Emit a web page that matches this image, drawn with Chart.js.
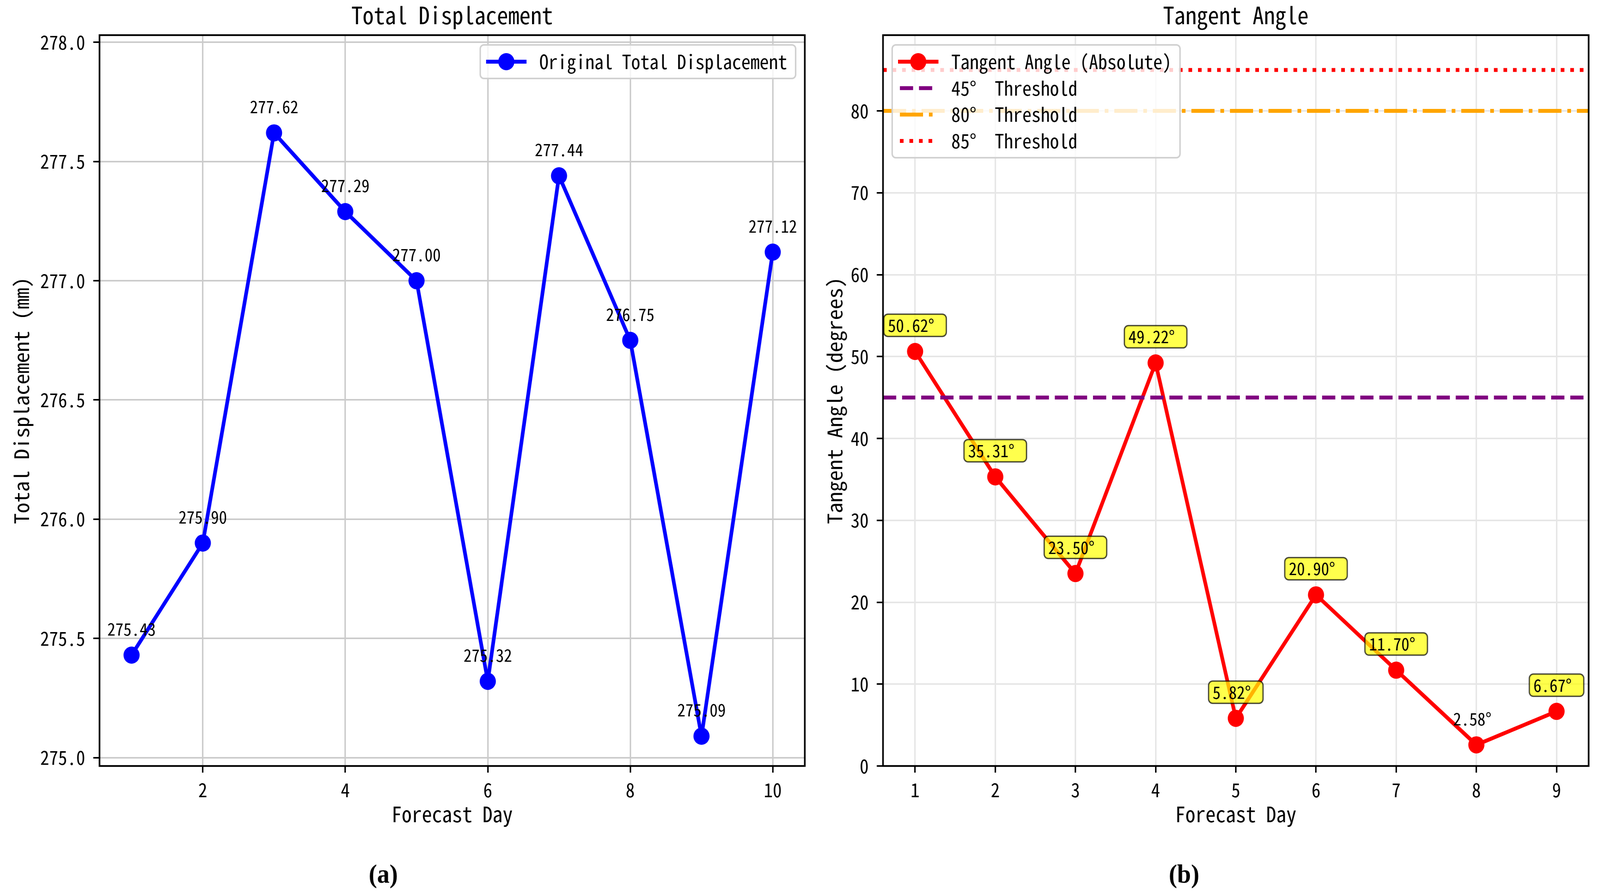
<!DOCTYPE html>
<html>
<head>
<meta charset="utf-8">
<script src="https://cdn.jsdelivr.net/npm/chart.js@4.4.1/dist/chart.umd.min.js"></script>
<style>
  html, body { margin: 0; padding: 0; background: #ffffff; overflow: hidden; }
  body { position: relative; }
  canvas { position: absolute; top: 0; }
</style>
</head>
<body>
<canvas id="dispChart" width="2230" height="2295"></canvas>
<canvas id="angleChart" width="2128" height="2295"></canvas>
<script>
// ---- data ----
var forecastDays = [1, 2, 3, 4, 5, 6, 7, 8, 9, 10];
var totalDisplacement = [275.43, 275.90, 277.62, 277.29, 277.00, 275.32, 277.44, 276.75, 275.09, 277.12];

var angleDays = [1, 2, 3, 4, 5, 6, 7, 8, 9];
var tangentAngle = [50.62, 35.31, 23.50, 49.22, 5.82, 20.90, 11.70, 2.58, 6.67];

var thresholdValues = [45, 80, 85];
var thresholdLabels = ["45° Threshold", "80° Threshold", "85° Threshold"];

var dispTicksX = [2, 4, 6, 8, 10];
var dispTicksY = [275.0, 275.5, 276.0, 276.5, 277.0, 277.5, 278.0];
var angleTicksX = [1, 2, 3, 4, 5, 6, 7, 8, 9];
var angleTicksY = [0, 10, 20, 30, 40, 50, 60, 70, 80];

// the figure is laid out in 4358 x 2295 units and stretched over the window
var PAGE_W = 4358, PAGE_H = 2295;
var KX = (window.innerWidth || PAGE_W) / PAGE_W;
var KY = (window.innerHeight || PAGE_H) / PAGE_H;
document.body.style.width = PAGE_W * KX + "px";
document.body.style.height = PAGE_H * KY + "px";

function placeCanvas(id, left) {
  var c = document.getElementById(id);
  c.style.left = left * KX + "px";
  c.style.width = c.width * KX + "px";
  c.style.height = c.height * KY + "px";
  return c;
}
var dispCanvas = placeCanvas("dispChart", 0);
var angleCanvas = placeCanvas("angleChart", 2230);

// ---- fonts (SimHei-like half width latin) ----
var FAMILY = "'Noto Sans Mono CJK SC', 'DejaVu Sans Mono', monospace";
var probe = document.createElement("canvas").getContext("2d");
probe.font = "100px " + FAMILY;
var charRatio = probe.measureText("0123456789").width / 1000;
function sizeFor(charWidth) { return Math.round(charWidth / charRatio); }

var titleSize = sizeFor(30.3);
var labelSize = sizeFor(27.6);
var tickSize = sizeFor(24.5);
var legendSize = sizeFor(25.2);
var noteSize = sizeFor(22);

// in the original font the degree sign takes a full-width cell
function wideWidth(ctx, text) {
  var cell = ctx.measureText("0").width;
  var extra = (text.split("°").length - 1) * cell;
  return ctx.measureText(text).width + extra;
}
function drawWide(ctx, text, x, y) {
  var cell = ctx.measureText("0").width;
  var parts = text.split("°");
  ctx.textAlign = "left";
  parts.forEach(function (p, i) {
    var s = i < parts.length - 1 ? p + "°" : p;
    ctx.fillText(s, x, y);
    x += ctx.measureText(s).width + (i < parts.length - 1 ? cell : 0);
  });
}

var thresholdStyles = [
  { color: "#800080", dash: [36, 16] },
  { color: "#ffa500", dash: [63, 16, 10, 16] },
  { color: "#ff0000", dash: [10, 16] }
];

function pts(xs, ys) {
  return xs.map(function (x, i) { return { x: x, y: ys[i] }; });
}

function roundRect(ctx, x, y, w, h, r) {
  ctx.beginPath();
  ctx.moveTo(x + r, y);
  ctx.lineTo(x + w - r, y);
  ctx.arcTo(x + w, y, x + w, y + r, r);
  ctx.lineTo(x + w, y + h - r);
  ctx.arcTo(x + w, y + h, x + w - r, y + h, r);
  ctx.lineTo(x + r, y + h);
  ctx.arcTo(x, y + h, x, y + h - r, r);
  ctx.lineTo(x, y + r);
  ctx.arcTo(x, y, x + r, y, r);
  ctx.closePath();
}

function drawLegend(ctx, area, entries, anchor) {
  ctx.save();
  ctx.font = legendSize + "px " + FAMILY;
  var textW = 0;
  entries.forEach(function (e) { textW = Math.max(textW, wideWidth(ctx, e.label)); });
  var w = textW + 184;
  var rowGap = 67.7;
  var h = 86 + (entries.length - 1) * rowGap;
  var x = anchor === "right" ? area.right - 25 - w : area.left + 25;
  var y = area.top + 25;
  roundRect(ctx, x, y, w, h, 10);
  ctx.fillStyle = "rgba(255,255,255,0.8)";
  ctx.fill();
  ctx.strokeStyle = "#d0d0d0";
  ctx.lineWidth = 4;
  ctx.stroke();
  entries.forEach(function (e, i) {
    var cy = y + 43 + i * rowGap;
    var hx = x + 21;
    ctx.strokeStyle = e.color;
    ctx.lineWidth = 10;
    if (e.dash) {
      ctx.setLineDash(e.dash);
      ctx.lineCap = "butt";
    } else {
      ctx.setLineDash([]);
      ctx.lineCap = "square";
    }
    ctx.beginPath();
    ctx.moveTo(hx, cy);
    ctx.lineTo(hx + 100, cy);
    ctx.stroke();
    ctx.setLineDash([]);
    if (e.marker) {
      ctx.fillStyle = e.color;
      ctx.beginPath();
      ctx.arc(hx + 50, cy, 22, 0, Math.PI * 2);
      ctx.fill();
    }
    ctx.fillStyle = "#000000";
    ctx.textBaseline = "middle";
    drawWide(ctx, e.label, hx + 140, cy);
  });
  ctx.restore();
}

// frame, titles, value notes, legend and panel captions
var decorPlugin = {
  id: "decor",
  afterDatasetsDraw: function (chart, args, opts) {
    var ctx = chart.ctx;
    var a = chart.chartArea;
    ctx.save();
    ctx.strokeStyle = "#000000";
    ctx.lineWidth = 4.5;
    ctx.strokeRect(a.left, a.top, a.right - a.left, a.bottom - a.top);

    var meta = chart.getDatasetMeta(0);
    var values = chart.data.datasets[0].data;
    ctx.font = noteSize + "px " + FAMILY;
    ctx.textBaseline = "middle";
    meta.data.forEach(function (el, i) {
      var v = values[i].y;
      var text = v.toFixed(2) + opts.suffix;
      var ty = el.y - 67;
      var tw = wideWidth(ctx, text);
      var tx = el.x - tw / 2;
      if (opts.boxed && v > 5) {
        roundRect(ctx, tx - 11, ty - 28.5, tw + 22, 57, 11);
        ctx.fillStyle = "rgba(255,255,0,0.7)";
        ctx.fill();
        ctx.strokeStyle = "rgba(0,0,0,0.7)";
        ctx.lineWidth = 3.5;
        ctx.stroke();
      }
      ctx.fillStyle = "#000000";
      drawWide(ctx, text, tx, ty);
    });
    ctx.restore();
  },
  afterDraw: function (chart, args, opts) {
    var ctx = chart.ctx;
    var a = chart.chartArea;
    drawLegend(ctx, a, opts.legend, opts.legendAnchor);
    ctx.save();
    ctx.fillStyle = "#000000";
    ctx.textAlign = "center";
    ctx.textBaseline = "middle";
    ctx.font = titleSize + "px " + FAMILY;
    ctx.fillText(opts.title, (a.left + a.right) / 2, 39);
    ctx.font = "bold 68px 'Liberation Serif', 'Times New Roman', serif";
    ctx.fillText(opts.caption, opts.captionX, 2243);
    ctx.restore();
  }
};

function axisFont(size) {
  return { family: FAMILY, size: size, lineHeight: 1 };
}

function makeScales(cfg) {
  return {
    x: {
      type: "linear",
      min: cfg.xMin,
      max: cfg.xMax,
      afterFit: function (s) { s.height = 333; },
      afterBuildTicks: function (s) { s.ticks = cfg.xTicks.map(function (v) { return { value: v }; }); },
      ticks: {
        font: axisFont(tickSize), color: "#000000", padding: 20,
        maxRotation: 0, autoSkip: false,
        callback: function (v) { return String(v); }
      },
      grid: { color: cfg.gridColor, lineWidth: 4, tickColor: "#000000", tickLength: 17, tickWidth: 4 },
      border: { display: false },
      title: {
        display: true, text: "Forecast Day", color: "#000000",
        font: axisFont(labelSize),
        padding: { top: 0, bottom: 210 - labelSize / 2 }
      }
    },
    y: {
      type: "linear",
      min: cfg.yMin,
      max: cfg.yMax,
      afterFit: function (s) { s.width = cfg.yWidth; },
      afterBuildTicks: function (s) { s.ticks = cfg.yTicks.map(function (v) { return { value: v }; }); },
      ticks: {
        font: axisFont(tickSize), color: "#000000", padding: 22,
        callback: cfg.yFormat
      },
      grid: { color: cfg.gridColor, lineWidth: 4, tickColor: "#000000", tickLength: 17, tickWidth: 4 },
      border: { display: false },
      title: {
        display: true, text: cfg.yTitle, color: "#000000",
        font: axisFont(labelSize),
        padding: { top: cfg.yTitleX - labelSize / 2, bottom: 0 }
      }
    }
  };
}

var baseOptions = {
  responsive: false,
  animation: false,
  devicePixelRatio: 1,
  events: []
};

// ---- (a) total displacement ----
new Chart(dispCanvas.getContext("2d"), {
  type: "line",
  data: {
    datasets: [{
      label: "Original Total Displacement",
      data: pts(forecastDays, totalDisplacement),
      borderColor: "#0000ff",
      backgroundColor: "#0000ff",
      borderWidth: 10,
      borderJoinStyle: "round",
      pointRadius: 22,
      pointBorderWidth: 0,
      pointBackgroundColor: "#0000ff",
      tension: 0
    }]
  },
  options: Object.assign({}, baseOptions, {
    layout: { padding: { top: 90, right: 38, left: 0, bottom: 0 } },
    plugins: {
      legend: { display: false },
      tooltip: { enabled: false },
      decor: {
        title: "Total Displacement",
        caption: "(a)",
        captionX: 1044,
        suffix: "",
        boxed: false,
        legendAnchor: "right",
        legend: [{ label: "Original Total Displacement", color: "#0000ff", marker: true }]
      }
    },
    scales: makeScales({
      xMin: 0.55, xMax: 10.45, yMin: 274.965, yMax: 278.03,
      xTicks: dispTicksX, yTicks: dispTicksY,
      yWidth: 271, yTitle: "Total Displacement (mm)", yTitleX: 58,
      gridColor: "#cbcbcb",
      yFormat: function (v) { return v.toFixed(1); }
    })
  }),
  plugins: [decorPlugin]
});

// ---- (b) tangent angle ----
var angleSets = [{
  label: "Tangent Angle (Absolute)",
  data: pts(angleDays, tangentAngle),
  borderColor: "#ff0000",
  backgroundColor: "#ff0000",
  borderWidth: 10,
  borderJoinStyle: "round",
  pointRadius: 22,
  pointBorderWidth: 0,
  pointBackgroundColor: "#ff0000",
  tension: 0,
  order: 2
}];
thresholdValues.forEach(function (t, i) {
  angleSets.push({
    label: thresholdLabels[i],
    data: pts([0.6, 9.4], [t, t]),
    borderColor: thresholdStyles[i].color,
    borderWidth: 10,
    borderDash: thresholdStyles[i].dash,
    borderCapStyle: "butt",
    pointRadius: 0,
    order: 1
  });
});

var angleLegend = [{ label: "Tangent Angle (Absolute)", color: "#ff0000", marker: true }];
thresholdLabels.forEach(function (l, i) {
  angleLegend.push({ label: l, color: thresholdStyles[i].color, dash: thresholdStyles[i].dash });
});

new Chart(angleCanvas.getContext("2d"), {
  type: "line",
  data: { datasets: angleSets },
  options: Object.assign({}, baseOptions, {
    layout: { padding: { top: 90, right: 31, left: 0, bottom: 0 } },
    plugins: {
      legend: { display: false },
      tooltip: { enabled: false },
      decor: {
        title: "Tangent Angle",
        caption: "(b)",
        captionX: 995,
        suffix: "°",
        boxed: true,
        legendAnchor: "left",
        legend: angleLegend
      }
    },
    scales: makeScales({
      xMin: 0.6, xMax: 9.4, yMin: 0, yMax: 89.25,
      xTicks: angleTicksX, yTicks: angleTicksY,
      yWidth: 175, yTitle: "Tangent Angle (degrees)", yTitleX: 43,
      gridColor: "#e6e6e6",
      yFormat: function (v) { return String(v); }
    })
  }),
  plugins: [decorPlugin]
});
</script>
</body>
</html>
